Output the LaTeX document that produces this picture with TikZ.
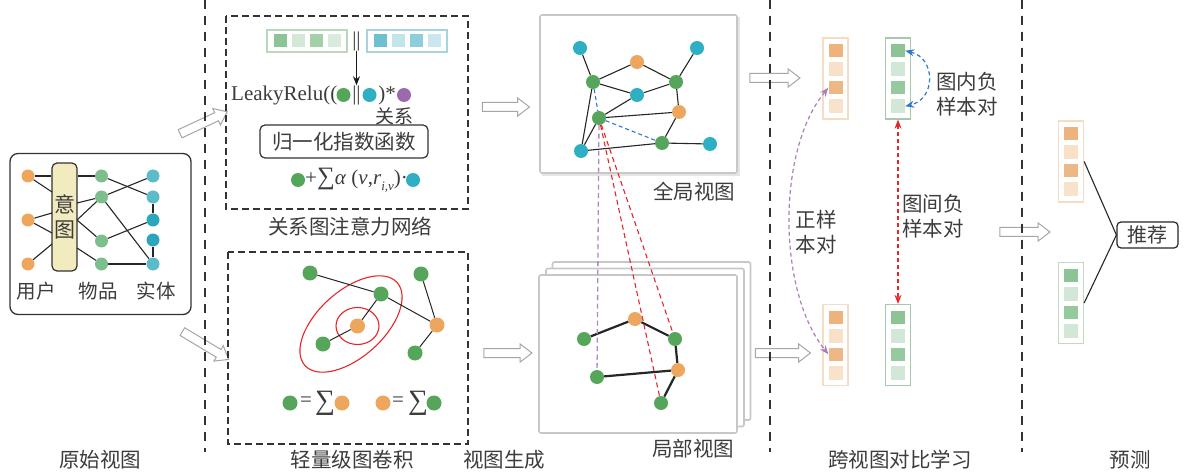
\documentclass[tikz,border=0pt]{standalone}
\usepackage{fontspec}
\setmainfont{Liberation Serif}
\newfontfamily\cjk{Noto Sans CJK SC}
\usetikzlibrary{arrows.meta,shapes.arrows}
\definecolor{cgr}{HTML}{55A65A}
\definecolor{cor}{HTML}{EDA65E}
\definecolor{cte}{HTML}{2FAFC3}
\definecolor{cpu}{HTML}{9C69AE}
\definecolor{cred}{HTML}{E8262A}
\definecolor{cblue}{HTML}{2E7BCB}
\definecolor{lgr}{HTML}{7CBF8C}
\definecolor{lor}{HTML}{EFA55C}
\definecolor{lte}{HTML}{5CBACB}
\definecolor{lte2}{HTML}{2CA6BB}
\definecolor{intentc}{HTML}{F3EBC0}
\definecolor{txt}{HTML}{3C3C3C}
\definecolor{oA}{HTML}{EEB27C}
\definecolor{oB}{HTML}{F9E0C8}
\definecolor{oC}{HTML}{EEB886}
\definecolor{oD}{HTML}{F9E2CC}
\definecolor{oBd}{HTML}{F6DCC3}
\definecolor{gA}{HTML}{8DC496}
\definecolor{gB}{HTML}{D2E7D5}
\definecolor{gC}{HTML}{97C99F}
\definecolor{gBd}{HTML}{A8C8AD}
\definecolor{hgA}{HTML}{8CC495}
\definecolor{hgB}{HTML}{D3E8D6}
\definecolor{hgC}{HTML}{A2D0A9}
\definecolor{hgD}{HTML}{D9ECDB}
\definecolor{hgBd}{HTML}{B9D8BE}
\definecolor{htA}{HTML}{6EC0D1}
\definecolor{htB}{HTML}{C2E4EB}
\definecolor{htC}{HTML}{8DCEDB}
\definecolor{htD}{HTML}{C9E7ED}
\definecolor{htBd}{HTML}{A9D3DC}
\tikzset{
  >={Stealth[length=9pt,width=7pt]},
  dot/.style={circle,inner sep=0pt,minimum size=14pt,draw=none},
  sdot/.style={circle,inner sep=0pt,minimum size=13pt,draw=none},
  bdot/.style={circle,inner sep=0pt,minimum size=15pt,draw=none},
  edge/.style={line width=1pt,draw=black!85},
  ledge/.style={line width=2.2pt,draw=black!85},
  dbox/.style={draw=black!80,line width=1.2pt,dash pattern=on 7pt off 4pt},
  sepline/.style={draw=black!80,line width=1.2pt,dash pattern=on 9pt off 7pt},
  harrow/.style={single arrow,draw=black!35,fill=white,line width=1pt,inner xsep=0pt,inner ysep=4pt,
    single arrow head extend=4.5pt,single arrow tip angle=75},
  viewbox/.style={draw=black!22,line width=1.6pt,rounded corners=2pt,fill=white,inner sep=0pt},
  lab/.style={font=\cjk\fontsize{20.5}{25}\selectfont,text=txt,inner sep=0pt},
  slab/.style={font=\cjk\fontsize{19.5}{25}\selectfont,text=txt,inner sep=0pt},
  rm/.style={font=\fontsize{21}{24}\selectfont,text=txt,inner sep=0pt},
  sq/.style={rectangle,inner sep=0pt,minimum width=14pt,minimum height=13.5pt,draw=none},
  hsq/.style={rectangle,inner sep=0pt,minimum width=13pt,minimum height=13pt,draw=none},
}
\newcommand\myvvec[8]{%
  \node[draw=#4,line width=1.3pt,fill=white,inner sep=0pt,minimum width=25pt,minimum height=81pt] (#1) at (#2,#3) {};
  \node[sq,fill=#5] (#1-1) at (#2,#3-27.75) {};
  \node[sq,fill=#6] (#1-2) at (#2,#3-9.25) {};
  \node[sq,fill=#7] (#1-3) at (#2,#3+9.25) {};
  \node[sq,fill=#8] (#1-4) at (#2,#3+27.75) {};
}
\newcommand\myhvec[8]{%
  \node[draw=#4,line width=1.3pt,fill=white,inner sep=0pt,minimum width=80pt,minimum height=22pt] (#1) at (#2,#3) {};
  \node[hsq,fill=#5] (#1-1) at (#2-27,#3) {};
  \node[hsq,fill=#6] (#1-2) at (#2-9,#3) {};
  \node[hsq,fill=#7] (#1-3) at (#2+9,#3) {};
  \node[hsq,fill=#8] (#1-4) at (#2+27,#3) {};
}
\begin{document}
\begin{tikzpicture}[x=1pt,y=-1pt]
\useasboundingbox (0,0) rectangle (1186,473);
\fill[white] (0,0) rectangle (1186,473);

% ---------------- hollow arrows ----------------
\node[harrow,rotate=25,minimum height=52pt] (ha1) at (201,124) {};
\node[harrow,rotate=-31,minimum height=54pt] (ha2) at (203,344) {};
\node[harrow,minimum height=47pt] (ha3) at (503,107) {};
\node[harrow,minimum height=48pt] (ha4) at (505,353) {};
\node[harrow,minimum height=50pt] (ha5) at (772,78) {};
\node[harrow,minimum height=55pt] (ha6) at (780,353) {};
\node[harrow,minimum height=50pt] (ha7) at (1022,232) {};

% ---------------- separators ----------------
\draw[sepline] (205,0) -- (205,452);
\draw[sepline] (770,0) -- (770,452);
\draw[sepline] (1022,0) -- (1022,452);

% ---------------- original view ----------------
\node[draw=black!80,line width=1.3pt,rounded corners=8pt,minimum width=181pt,minimum height=161pt,inner sep=0pt] (orig) at (100.5,234) {};
\node[draw=black!80,line width=1.2pt,fill=intentc,rounded corners=5pt,minimum width=25pt,minimum height=108pt,inner sep=0pt,
  align=center,font=\cjk\fontsize{21}{25}\selectfont,text=txt] (intent) at (64.5,217) {意\\图};
\node[sdot,fill=lor] (u1) at (28,176) {};
\node[sdot,fill=lor] (u2) at (28,220) {};
\node[sdot,fill=lor] (u3) at (28,264) {};
\node[sdot,fill=lgr] (i1) at (101.5,176) {};
\node[sdot,fill=lgr] (i2) at (101.5,197) {};
\node[sdot,fill=lgr] (i3) at (101.5,241) {};
\node[sdot,fill=lgr] (i4) at (101.5,264) {};
\node[sdot,fill=lte] (e1) at (153,176) {};
\node[sdot,fill=lte] (e2) at (153,197) {};
\node[sdot,fill=lte2] (e3) at (153,220) {};
\node[sdot,fill=lte2] (e4) at (153,240) {};
\node[sdot,fill=lte] (e5) at (153,264) {};
\coordinate (il1) at (52,192);
\coordinate (il2) at (52,213);
\coordinate (il3) at (52,233);
\coordinate (il4) at (52,244);
\coordinate (ir1) at (77,203);
\coordinate (ir2) at (77,220);
\coordinate (ir3) at (77,248);
\begin{scope}[edge,line width=1.1pt]
\draw (u1) -- (u1 -| intent.west);
\draw (u1) -- (il1);
\draw (u2) -- (il2);
\draw (u2) -- (il3);
\draw (u3) -- (il4);
\draw (i1 -| intent.east) -- (i1);
\draw (ir1) -- (i2);
\draw (ir2) -- (i2);
\draw (ir2) -- (i3);
\draw (ir3) -- (i4);
\draw (i1) -- (e2);
\draw (i2) -- (e1);
\draw (i2) -- (e5);
\draw (i3) -- (e3);
\draw (i4) -- (e5);
\draw (e2) -- (e3);
\draw (e4) -- (e5);
\end{scope}
\node[slab] (lu) at (36,291) {用户};
\node[slab] (li) at (98,291) {物品};
\node[slab] (le) at (156,291) {实体};

% ---------------- relation graph attention ----------------
\draw[dbox] (226,16) rectangle (468,209);
\myhvec{hg}{307}{41}{hgBd}{hgA}{hgB}{hgC}{hgD}
\myhvec{ht}{407}{41}{htBd}{htA}{htB}{htC}{htD}
\node[rm] (bar) at (356.5,41) {||};
\node[rm,anchor=east] (leaky) at (337.5,95) {LeakyRelu((};
\node[bdot,minimum size=14pt,fill=cgr] (f1) at (343.5,95) {};
\node[rm] (fbar) at (356.5,95) {||};
\node[bdot,minimum size=14pt,fill=cte] (f2) at (369.5,95) {};
\node[rm] (fstar) at (387,95) {)*};
\node[bdot,minimum size=14pt,fill=cpu] (f3) at (404,95) {};
\draw[line width=1pt,black!90,->] (bar.south) -- (fbar.north);
\node[font=\cjk\fontsize{19}{22}\selectfont,text=txt,inner sep=0pt] (rel) at (394,116) {关系};
\node[draw=black!80,line width=1.2pt,rounded corners=5pt,minimum width=168pt,minimum height=33pt,inner sep=0pt,
  font=\cjk\fontsize{20.5}{24}\selectfont,text=txt] (softmax) at (344,141.5) {归一化指数函数};
\node[bdot,minimum size=14pt,fill=cgr] (s1) at (298,180) {};
\node[rm,anchor=west] (sform) at (305,180) {+{\fontsize{25}{25}\selectfont∑}\textit{α} (\textit{v},\textit{r}\raisebox{-0.3em}{\fontsize{13}{13}\selectfont\textit{i,v}})·};
\node[bdot,minimum size=14pt,fill=cte] (s2) at (413,180) {};
\node[lab] (lrgat) at (350,227) {关系图注意力网络};

% ---------------- light graph convolution ----------------
\draw[dbox] (228,252) rectangle (468,444);
\draw[cred,line width=1.1pt] (351,324) ellipse [x radius=62,y radius=33,rotate=42];
\draw[cred,line width=1.1pt] (357.5,326) ellipse [x radius=21.5,y radius=18.5];
\node[bdot,fill=cgr] (bg1) at (310,273) {};
\node[bdot,fill=cgr] (bg2) at (381,294) {};
\node[bdot,fill=cor] (bo1) at (357.5,326) {};
\node[bdot,fill=cgr] (bg3) at (323,344) {};
\node[bdot,fill=cgr] (bg4) at (421,274) {};
\node[bdot,fill=cor] (bo2) at (437,325) {};
\node[bdot,fill=cgr] (bg5) at (415,353) {};
\begin{scope}[edge]
\draw (bg1) -- (bg2);
\draw (bg2) -- (bo2);
\draw (bg2) -- (bo1);
\draw (bo1) -- (bg3);
\draw (bg4) -- (bo2);
\draw (bo2) -- (bg5);
\end{scope}
\node[bdot,fill=cgr] (lg1a) at (290,403) {};
\node[rm] (leq1) at (306,402) {=};
\node[font=\fontsize{28}{28}\selectfont,text=txt,inner sep=0pt] (lsum1) at (325,403) {∑};
\node[bdot,fill=cor] (lo1a) at (342,403) {};
\node[bdot,fill=cor] (lo2a) at (383,403) {};
\node[rm] (leq2) at (398,402) {=};
\node[font=\fontsize{28}{28}\selectfont,text=txt,inner sep=0pt] (lsum2) at (418,403) {∑};
\node[bdot,fill=cgr] (lg2a) at (434,403) {};
\node[lab] (llgc) at (352,460) {轻量级图卷积};

% ---------------- global view ----------------
\fill[black!10] (542,17) rectangle (740,176);
\node[viewbox,minimum width=197pt,minimum height=158pt] (gv) at (638.5,94) {};
\node[dot,fill=cte] (gt1) at (580,48) {};
\node[dot,fill=cor] (go1) at (637,62) {};
\node[dot,fill=cte] (gt2) at (697,48) {};
\node[dot,fill=cgr] (gg1) at (593,82) {};
\node[dot,fill=cte] (gt3) at (637,95) {};
\node[dot,fill=cgr] (gg2) at (676,82) {};
\node[dot,fill=cor] (go2) at (679,112) {};
\node[dot,fill=cgr] (gg3) at (599,118) {};
\node[dot,fill=cte] (gt4) at (581,151) {};
\node[dot,fill=cgr] (gg4) at (662,143) {};
\node[dot,fill=cte] (gt5) at (710,144) {};
\begin{scope}[edge,line width=1.1pt]
\draw (gt1) -- (gg1);
\draw (gg1) -- (go1);
\draw (go1) -- (gg2);
\draw (gt2) -- (gg2);
\draw (gg1) -- (gt3);
\draw (gt3) -- (gg2);
\draw (gg2) -- (go2);
\draw (gg1) -- (gt4);
\draw (gg3) -- (gt3);
\draw (gg3) -- (go2);
\draw (gg3) -- (gt4);
\draw (gt4) -- (gg4);
\draw (go2) -- (gg4);
\draw (gg4) -- (gt5);
\end{scope}
\draw[cblue,line width=1.1pt,dash pattern=on 4pt off 3pt] (gg1) -- (gg3);
\draw[cblue,line width=1.1pt,dash pattern=on 4pt off 3pt] (gg3) -- (gg4);
\node[lab] (lgv) at (694,192) {全局视图};

% ---------------- local view ----------------
\node[viewbox,minimum width=198pt,minimum height=158pt] (lvb2) at (651.5,341) {};
\node[viewbox,minimum width=198pt,minimum height=158pt] (lvb1) at (645,347.5) {};
\node[viewbox,minimum width=198pt,minimum height=158pt] (lv) at (638,354) {};
\node[dot,fill=cor] (lo1) at (635,319) {};
\node[dot,fill=cgr] (lg1) at (584,339) {};
\node[dot,fill=cgr] (lg2) at (675,339) {};
\node[dot,fill=cor] (lo2) at (678,370) {};
\node[dot,fill=cgr] (lg3) at (597,377) {};
\node[dot,fill=cgr] (lg4) at (661,403) {};
\begin{scope}[ledge]
\draw (lg1) -- (lo1);
\draw (lo1) -- (lg2);
\draw (lg2) -- (lo2);
\draw (lo2) -- (lg3);
\draw (lo2) -- (lg4);
\end{scope}
\node[lab] (llv) at (693,449) {局部视图};
\node[lab] (lgen) at (504,460) {视图生成};

% cross-view dashed links
\draw[cpu!80,line width=1.3pt,dash pattern=on 5pt off 3.5pt] (gg3) -- (lg3);
\draw[cred,line width=1.1pt,dash pattern=on 5pt off 3.5pt] (gg3) -- (lg4);
\draw[cred,line width=1.1pt,dash pattern=on 5pt off 3.5pt] (gg3) -- (lg2);

% ---------------- contrastive learning ----------------
\myvvec{ctO}{835.5}{78.5}{oBd}{oA}{oB}{oC}{oD}
\myvvec{ctG}{898}{78.5}{gBd}{gA}{gB}{gC}{gB}
\myvvec{cbO}{835.5}{345}{oBd}{oA}{oB}{oC}{oD}
\myvvec{cbG}{898}{345}{gBd}{gA}{gB}{gC}{gB}
\draw[cblue,line width=1.2pt,dash pattern=on 4pt off 3pt,<->] (ctG-1.east) .. controls (936,58) and (936,99) .. (ctG-4.east);
\draw[cpu!85,line width=1.2pt,dash pattern=on 4pt off 3pt,<->] (ctO-3.west) .. controls (777,150) and (777,290) .. (cbO-3.west);
\draw[cred,line width=1.2pt,dash pattern=on 4pt off 3pt,<->] (ctG.south) -- (cbG.north);
\node[lab,align=left] (lin) at (967,94.5) {图内负\\样本对};
\node[lab,align=left] (lpos) at (816,232.5) {正样\\本对};
\node[lab,align=left] (lbetw) at (933,216.5) {图间负\\样本对};
\node[lab] (lcl) at (900,460) {跨视图对比学习};

% ---------------- prediction ----------------
\myvvec{pO}{1071}{161.5}{oBd}{oA}{oB}{oC}{oD}
\myvvec{pG}{1071}{303}{gBd!70}{gA}{gB}{gC}{gB}
\node[draw=black!85,line width=1.2pt,rounded corners=4pt,minimum width=61pt,minimum height=26pt,inner sep=0pt,
  font=\cjk\fontsize{20}{22}\selectfont,text=txt] (rec) at (1147.5,235) {推荐};
\draw[edge,line width=1.1pt] (pO.east) -- (rec.west);
\draw[edge,line width=1.1pt] (pG.east) -- (rec.west);
\node[lab] (lpred) at (1130,460) {预测};
\node[lab] (lorig) at (100,460) {原始视图};
\end{tikzpicture}
\end{document}
